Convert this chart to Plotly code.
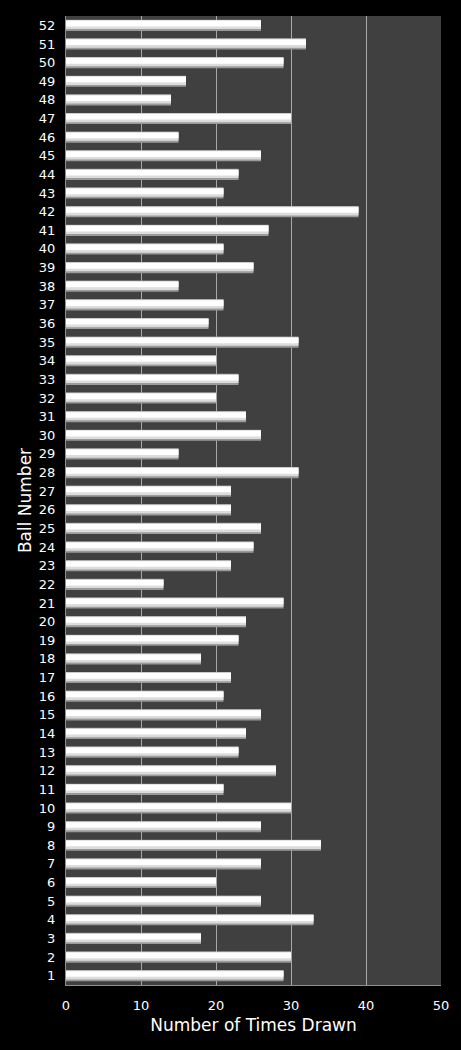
import plotly.graph_objects as go

balls = list(range(1, 53))
times_drawn = [29, 30, 18, 33, 26, 20, 26, 34, 26, 30,
               21, 28, 23, 24, 26, 21, 22, 18, 23, 24,
               29, 13, 22, 25, 26, 22, 22, 31, 15, 26,
               24, 20, 23, 20, 31, 19, 21, 15, 25, 21,
               27, 39, 21, 23, 26, 15, 30, 14, 16, 29,
               32, 26]
x_ticks = [0, 10, 20, 30, 40, 50]

font_family = "Verdana, DejaVu Sans, sans-serif"

fig = go.Figure()
# shaded base of each bar
fig.add_trace(go.Bar(
    x=times_drawn, y=balls, orientation="h",
    width=0.6, offset=-0.3,
    marker=dict(color="#9a9a9a", line=dict(width=0)),
    hoverinfo="x+y", showlegend=False,
))
# mid tone
fig.add_trace(go.Bar(
    x=times_drawn, y=balls, orientation="h",
    width=0.48, offset=-0.2,
    marker=dict(color="#dcdcdc", line=dict(width=0)),
    hoverinfo="skip", showlegend=False,
))
# bright highlight
fig.add_trace(go.Bar(
    x=times_drawn, y=balls, orientation="h",
    width=0.3, offset=-0.06,
    marker=dict(color="#ffffff", line=dict(width=0)),
    hoverinfo="skip", showlegend=False,
))

fig.update_layout(
    width=461, height=1050,
    margin=dict(l=66, r=20, t=16, b=65),
    paper_bgcolor="#000000",
    plot_bgcolor="#404040",
    barmode="overlay",
    font=dict(family=font_family, color="#ffffff", size=13),
    xaxis=dict(
        range=[0, 50], tickvals=x_ticks, ticktext=[str(v) for v in x_ticks],
        showgrid=True, gridcolor="#a8a8a8", gridwidth=1,
        showline=True, linecolor="#909090", linewidth=1,
        zeroline=False, ticks="outside", ticklen=8, tickcolor="rgba(0,0,0,0)",
        tickfont=dict(size=13, color="#ffffff"),
        title=dict(text="Number of Times Drawn", font=dict(size=17, color="#ffffff"), standoff=7),
    ),
    yaxis=dict(
        range=[0.5, 52.5], tickvals=balls, ticktext=[str(b) for b in balls],
        showgrid=False, showline=True, linecolor="#909090", linewidth=1,
        zeroline=False, ticks="outside", ticklen=7, tickcolor="rgba(0,0,0,0)",
        tickfont=dict(size=13, color="#ffffff"),
        title=dict(text="Ball Number", font=dict(size=17, color="#ffffff"), standoff=2),
    ),
)

fig.write_html("out.html", config={"displayModeBar": False})

# remove the browser's default page margin so the figure sits at the page corner
with open("out.html", "r", encoding="utf-8") as f:
    html = f.read()
html = html.replace("<head>", "<head><style>html,body{margin:0;padding:0;background:#000;}</style>", 1)
with open("out.html", "w", encoding="utf-8") as f:
    f.write(html)
